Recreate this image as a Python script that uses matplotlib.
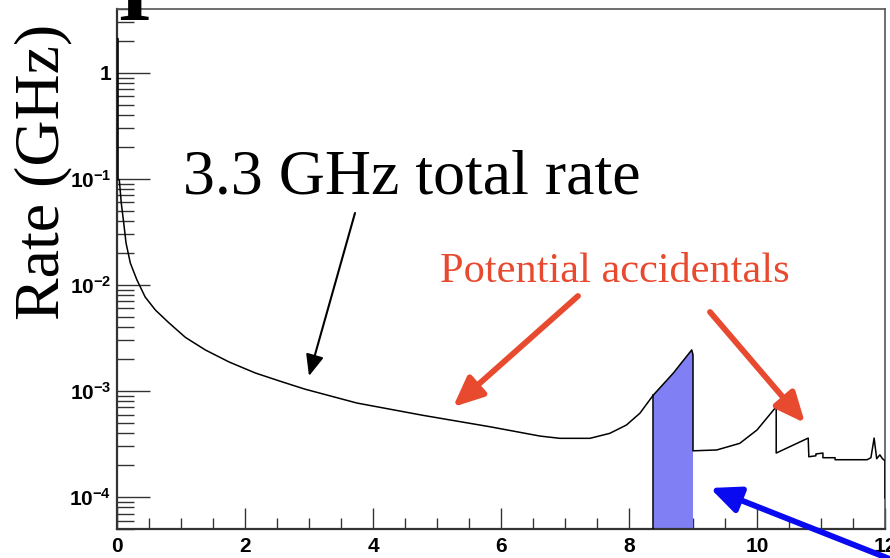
import numpy as np
import matplotlib
matplotlib.use("Agg")
import matplotlib.pyplot as plt
from matplotlib.patches import FancyArrowPatch
from matplotlib.ticker import FixedLocator, LogLocator, NullFormatter

### data ###
energy = np.array([0.0, 0.016, 0.016, 0.036, 0.067, 0.105, 0.141, 0.208, 0.31, 0.44,
                   0.60, 0.81, 1.07, 1.38, 1.75, 2.16, 2.58, 2.94, 3.75, 4.78,
                   5.83, 6.61, 6.92, 7.39, 7.70, 7.96, 8.17, 8.38, 8.69, 8.98,
                   9.0, 9.0, 9.37, 9.73, 10.0, 10.28, 10.30, 10.30, 10.52, 10.80,
                   10.81, 10.92, 10.92, 11.03, 11.03, 11.22, 11.22, 11.72, 11.78, 11.83,
                   11.87, 11.92, 11.96, 12.0, 12.0])
rate = np.array([2.1, 2.1, 0.098, 0.098, 0.059, 0.0385, 0.0249, 0.0161, 0.0112, 0.0077,
                 0.0058, 0.0044, 0.0032, 0.00244, 0.00188, 0.00148, 0.00122, 0.00104, 0.00077, 0.00059,
                 0.00046, 0.000376, 0.000358, 0.000358, 0.000399, 0.000478, 0.000617, 0.000916, 0.00147, 0.00244,
                 0.0022, 0.000273, 0.000278, 0.000321, 0.000429, 0.000687, 0.000687, 0.00026, 0.00030, 0.00036,
                 0.00024, 0.000245, 0.000255, 0.00026, 0.000235, 0.000235, 0.000225, 0.000225, 0.000235, 0.00036,
                 0.00023, 0.00025, 0.00023, 0.00022, 0.000098])
band_lo, band_hi = 8.38, 9.0

xticks = [0, 2, 4, 6, 8, 10, 12]
yticks = [1e-4, 1e-3, 1e-2, 1e-1, 1]
ylabels = [r'$\mathregular{10^{-4}}$', r'$\mathregular{10^{-3}}$', r'$\mathregular{10^{-2}}$',
           r'$\mathregular{10^{-1}}$', '1']

plt.rcParams['mathtext.fontset'] = 'custom'
plt.rcParams['mathtext.rm'] = 'Liberation Sans:bold'
plt.rcParams['mathtext.it'] = 'Liberation Sans:bold'
plt.rcParams['mathtext.bf'] = 'Liberation Sans:bold'

W, H = 890, 558
fig = plt.figure(figsize=(W / 100, H / 100), dpi=100)

def fx(px):
    return px / W

def fy(py):
    return 1 - py / H

ax = fig.add_axes([fx(117), fy(529), fx(885) - fx(117), fy(9) - fy(529)])
ax.set_yscale('log')
ax.set_xlim(0, 12)
ax.set_ylim(5e-5, 4.0)

# shaded band
i0 = np.searchsorted(energy, band_lo, 'left')
i1 = np.searchsorted(energy, band_hi, 'left')
bx = energy[i0:i1 + 1]
by = rate[i0:i1 + 1]
ax.fill_between(bx, 5e-5, by, facecolor='#8080f4', edgecolor='none', zorder=2)
ax.plot([bx[0], bx[0]], [5e-5, by[0]], color='black', lw=1.1, zorder=3)

ax.plot(energy, rate, color='black', lw=1.1, zorder=3)

# ROOT-like axes
ax.xaxis.set_major_locator(FixedLocator(xticks))
ax.xaxis.set_minor_locator(FixedLocator(np.arange(0, 12.01, 0.5)))
ax.set_xticklabels([str(t) for t in xticks])
ax.yaxis.set_major_locator(FixedLocator(yticks))
ax.set_yticklabels(ylabels)
ax.yaxis.set_minor_locator(LogLocator(base=10, subs=np.arange(2, 10), numticks=20))
ax.yaxis.set_minor_formatter(NullFormatter())

ax.tick_params(axis='both', which='both', direction='in', top=False, right=False,
               color='#333333', width=1.0)
ax.tick_params(axis='x', which='major', length=15, pad=6)
ax.tick_params(axis='x', which='minor', length=8)
ax.tick_params(axis='y', which='major', length=24, pad=4)
ax.tick_params(axis='y', which='minor', length=12)
for lab in ax.get_xticklabels() + ax.get_yticklabels():
    lab.set_fontfamily('Liberation Sans')
    lab.set_fontweight('bold')
    lab.set_fontsize(15)

ax.spines['left'].set_linewidth(1.6)
ax.spines['bottom'].set_linewidth(1.6)
ax.spines['left'].set_color('#333333')
ax.spines['bottom'].set_color('#333333')
ax.spines['top'].set_color('#555555')
ax.spines['right'].set_color('#555555')
ax.spines['top'].set_linewidth(1.2)
ax.spines['right'].set_linewidth(1.2)

# texts
fig.text(fx(43), fy(172), 'Rate (GHz)', rotation=90, ha='center', va='center',
         fontfamily='Liberation Serif', fontsize=46)
fig.text(fx(183), fy(193), '3.3 GHz total rate', ha='left', va='baseline',
         fontfamily='Liberation Serif', fontsize=46)
fig.text(fx(440), fy(282), 'Potential accidentals', ha='left', va='baseline',
         fontfamily='Liberation Serif', fontsize=30.5, color='#e84a2f')
fig.text(fx(117), fy(20), 'I', ha='left', va='baseline',
         fontfamily='Liberation Serif', fontweight='bold', fontsize=62)

# arrows
def arrow(p0, p1, color, lw, hl, hw):
    a = FancyArrowPatch((fx(p0[0]), fy(p0[1])), (fx(p1[0]), fy(p1[1])),
                        transform=fig.transFigure,
                        arrowstyle='-|>,head_length=%g,head_width=%g' % (hl, hw),
                        color=color, lw=lw, shrinkA=0, shrinkB=0,
                        mutation_scale=1, zorder=5)
    fig.add_artist(a)

arrow((355, 213), (309, 376), 'black', 1.5, 13, 5.5)
arrow((578, 296), (453, 407), '#e84a2f', 4.2, 18, 8)
arrow((710, 312), (805, 423), '#e84a2f', 4.2, 18, 8)
arrow((905, 565), (710, 488), '#0a0af0', 4.2, 18, 8)

fig.savefig('out.png', dpi=100)
